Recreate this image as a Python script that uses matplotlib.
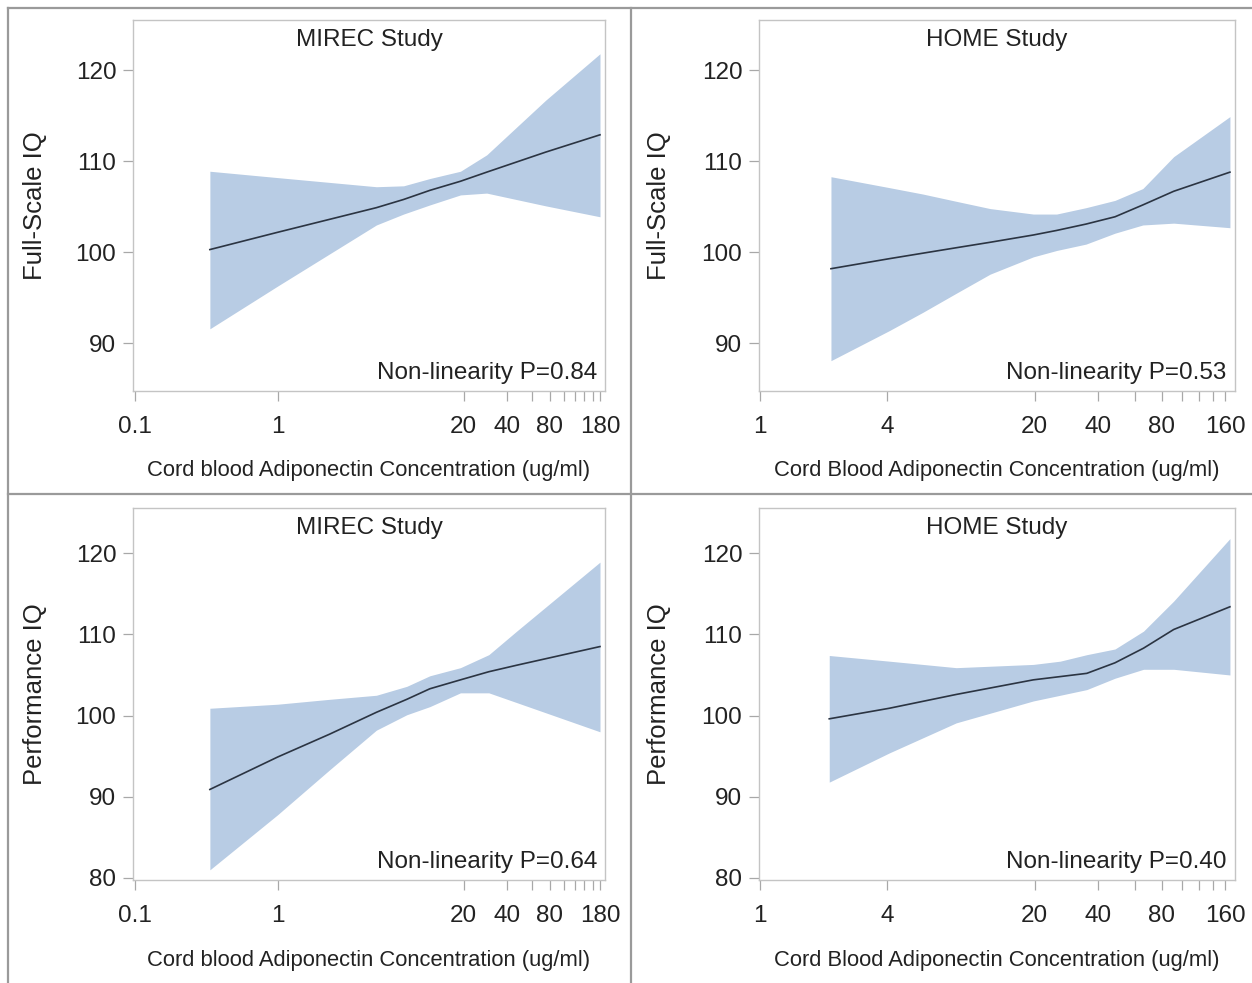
import matplotlib
matplotlib.use("Agg")
import matplotlib.pyplot as plt
from matplotlib.lines import Line2D
from matplotlib.ticker import FixedLocator, NullFormatter

plt.rcParams["font.family"] = ["Liberation Sans", "DejaVu Sans"]

# values (x = cord blood adiponectin, ug/ml)
mirec_fsiq_x = [0.335, 1, 4.9, 7.6, 11.6, 19, 29, 75, 180]
mirec_fsiq_fit = [100.3, 102.2, 104.9, 105.8, 106.8, 107.8, 108.8, 111.0, 112.9]
mirec_fsiq_upper = [108.9, 108.2, 107.2, 107.3, 108.1, 108.9, 110.7, 116.7, 121.8]
mirec_fsiq_lower = [91.6, 96.3, 103.0, 104.2, 105.2, 106.3, 106.5, 105.1, 103.9]

home_fsiq_x = [2.17, 4.1, 5.9, 8.5, 12.3, 19.7, 25.4, 35, 48, 65, 91, 168]
home_fsiq_fit = [98.2, 99.3, 99.9, 100.5, 101.1, 101.9, 102.4, 103.1, 103.9, 105.2, 106.7, 108.8]
home_fsiq_upper = [108.3, 107.1, 106.4, 105.6, 104.8, 104.2, 104.2, 104.9, 105.7, 107.0, 110.5, 114.9]
home_fsiq_lower = [88.1, 91.4, 93.4, 95.5, 97.6, 99.5, 100.2, 100.9, 102.1, 103.0, 103.2, 102.7]

mirec_piq_x = [0.335, 1, 2.3, 4.9, 8, 11.6, 19, 30, 47, 180]
mirec_piq_fit = [90.9, 94.9, 97.7, 100.4, 102.0, 103.3, 104.4, 105.4, 106.2, 108.5]
mirec_piq_upper = [100.9, 101.4, 102.0, 102.5, 103.6, 104.9, 105.9, 107.5, 110.4, 118.9]
mirec_piq_lower = [81.0, 87.8, 93.3, 98.2, 100.1, 101.1, 102.8, 102.8, 101.6, 98.0]

home_piq_x = [2.13, 4.1, 8.5, 19.7, 26.4, 35.3, 48, 65.5, 91, 168]
home_piq_fit = [99.6, 100.9, 102.6, 104.4, 104.8, 105.2, 106.5, 108.3, 110.6, 113.4]
home_piq_upper = [107.4, 106.7, 105.9, 106.3, 106.7, 107.5, 108.2, 110.4, 114.1, 121.8]
home_piq_lower = [91.8, 95.4, 99.1, 101.8, 102.5, 103.2, 104.6, 105.7, 105.7, 105.0]

mirec_ticks = [0.1, 1, 20, 40, 80, 180]
mirec_minor = [60, 100, 120, 140, 160]
home_ticks = [1, 4, 20, 40, 80, 160]
home_minor = [60, 100, 120, 140]

BAND = "#b8cce4"
LINE = "#2b3442"
FRAME = "#c4c4c4"
FS = 17.5


def draw_panel(rect, x, fit, lo, hi, study, pval, ylabel, xlabel,
               xlim, ylim, yticks, xticks, xminor, ylab_x):
    ax = fig.add_axes(rect)
    ax.fill_between(x, lo, hi, color=BAND, lw=0)
    ax.plot(x, fit, color=LINE, lw=1.2)
    ax.set_xscale("log")
    ax.set_xlim(*xlim); ax.set_ylim(*ylim)
    ax.xaxis.set_major_locator(FixedLocator(xticks))
    ax.set_xticklabels([f"{t:g}" for t in xticks])
    ax.xaxis.set_minor_locator(FixedLocator(xminor))
    ax.xaxis.set_minor_formatter(NullFormatter())
    ax.set_yticks(yticks)
    for s in ax.spines.values():
        s.set_color(FRAME); s.set_linewidth(1.0)
    ax.tick_params(which="both", direction="out", length=7, width=0.9,
                   color="#a8a8a8", labelsize=FS, labelcolor="#222222")
    ax.tick_params(axis="x", pad=11)
    ax.tick_params(axis="y", pad=5)
    ax.text(0.5, 0.946, study, transform=ax.transAxes, ha="center", va="center",
            fontsize=FS, color="#222222")
    ax.text(0.983, 0.048, f"Non-linearity P={pval}", transform=ax.transAxes,
            ha="right", va="center", fontsize=FS, color="#222222")
    ax.set_ylabel(ylabel, fontsize=18.5, color="#222222")
    ax.yaxis.set_label_coords(ylab_x, 0.5)
    ax.set_xlabel(xlabel, fontsize=15.8, color="#222222")
    ax.xaxis.set_label_coords(0.5, -0.187)
    return ax


fig = plt.figure(figsize=(12.52, 9.83), dpi=100)

xl_m = "Cord blood Adiponectin Concentration (ug/ml)"
xl_h = "Cord Blood Adiponectin Concentration (ug/ml)"
top_y = (84.8, 125.5)
bot_y = (79.75, 125.6)

draw_panel([0.1062, 0.6025, 0.377, 0.3771], mirec_fsiq_x, mirec_fsiq_fit,
           mirec_fsiq_lower, mirec_fsiq_upper, "MIREC Study", "0.84",
           "Full-Scale IQ", xl_m, (0.097, 195), top_y, [90, 100, 110, 120],
           mirec_ticks, mirec_minor, -0.183)
draw_panel([0.6062, 0.6025, 0.380, 0.3771], home_fsiq_x, home_fsiq_fit,
           home_fsiq_lower, home_fsiq_upper, "HOME Study", "0.53",
           "Full-Scale IQ", xl_h, (0.99, 177), top_y, [90, 100, 110, 120],
           home_ticks, home_minor, -0.185)
draw_panel([0.1062, 0.1048, 0.377, 0.3787], mirec_piq_x, mirec_piq_fit,
           mirec_piq_lower, mirec_piq_upper, "MIREC Study", "0.64",
           "Performance IQ", xl_m, (0.097, 195), bot_y, [80, 90, 100, 110, 120],
           mirec_ticks, mirec_minor, -0.183)
draw_panel([0.6062, 0.1048, 0.380, 0.3787], home_piq_x, home_piq_fit,
           home_piq_lower, home_piq_upper, "HOME Study", "0.40",
           "Performance IQ", xl_h, (0.99, 177), bot_y, [80, 90, 100, 110, 120],
           home_ticks, home_minor, -0.185)

# panel borders
div = dict(color="#9a9a9a", lw=1.6, transform=fig.transFigure)
fig.add_artist(Line2D([0.0064, 0.0064], [0, 0.9919], **div))
fig.add_artist(Line2D([0.0064, 1], [0.9919, 0.9919], **div))
fig.add_artist(Line2D([0.504, 0.504], [0, 0.9919], **div))
fig.add_artist(Line2D([0.0064, 1], [0.4975, 0.4975], **div))

fig.savefig("out.png", dpi=100)
plt.close(fig)
